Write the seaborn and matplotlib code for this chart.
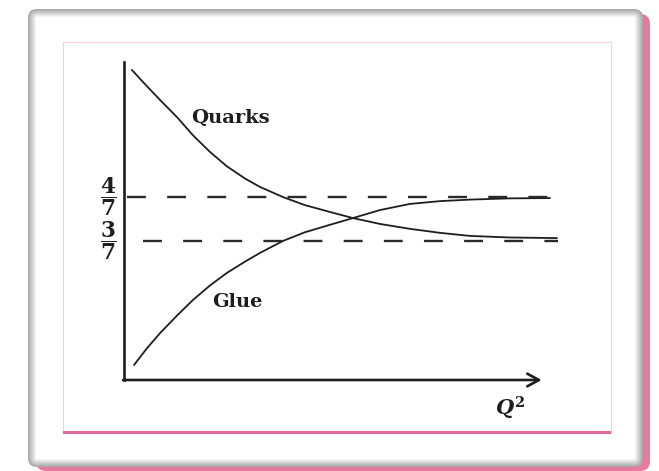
import numpy as np
import pandas as pd
import matplotlib
matplotlib.use("Agg")
import matplotlib.pyplot as plt
import seaborn as sns
from matplotlib.patches import FancyBboxPatch
from matplotlib.transforms import IdentityTransform

# Momentum fractions versus Q^2 (x in relative units of Q^2)
q2_quarks = [0.018, 0.048, 0.083, 0.122, 0.158, 0.197, 0.236, 0.278, 0.312, 0.365,
             0.415, 0.472, 0.525, 0.587, 0.656, 0.725, 0.794, 0.885, 0.993]
quarks = [0.984, 0.938, 0.886, 0.830, 0.772, 0.718, 0.671, 0.631, 0.604, 0.571,
          0.545, 0.523, 0.503, 0.484, 0.468, 0.455, 0.445, 0.440, 0.438]

q2_glue = [0.023, 0.053, 0.083, 0.122, 0.158, 0.197, 0.236, 0.278, 0.312, 0.365,
           0.415, 0.472, 0.525, 0.587, 0.656, 0.725, 0.794, 0.885, 0.977]
glue = [0.026, 0.081, 0.130, 0.187, 0.237, 0.284, 0.325, 0.362, 0.390, 0.429,
        0.457, 0.481, 0.503, 0.529, 0.549, 0.558, 0.563, 0.567, 0.568]

# Asymptotic limits
limit_values = [4 / 7, 3 / 7]
limit_labels = [r"$\dfrac{4}{7}$", r"$\dfrac{3}{7}$"]
limit_start = [0.007, 0.044]
limit_end = [0.977, 0.995]

df = pd.DataFrame({
    "Q2": q2_quarks + q2_glue,
    "fraction": quarks + glue,
    "parton": ["Quarks"] * len(quarks) + ["Glue"] * len(glue),
})

sns.set_theme(style="white")
plt.rcParams["font.family"] = ["DejaVu Serif", "DejaVu Sans"]
plt.rcParams["mathtext.fontset"] = "custom"
plt.rcParams["mathtext.rm"] = "DejaVu Serif:bold"
plt.rcParams["mathtext.bf"] = "DejaVu Serif:bold"
plt.rcParams["mathtext.it"] = "DejaVu Serif:italic:bold"

W, H = 659, 471
fig = plt.figure(figsize=(W / 100, H / 100), dpi=100)
fig.patch.set_facecolor("white")


def box(x0, y0, x1, y1, **kw):
    """Rounded box given in pixel coordinates measured from the top-left."""
    r = kw.pop("r", 0)
    style = f"round,pad=0,rounding_size={r}" if r else "square,pad=0"
    p = FancyBboxPatch((x0, H - y1), x1 - x0, y1 - y0, boxstyle=style,
                       transform=IdentityTransform(), **kw)
    fig.patches.append(p)
    return p


# Pink drop shadow and grey-edged outer frame
box(36, 14, 650, 471, r=10, facecolor="#e8799f", edgecolor="none", zorder=-20)
grey = np.linspace(0.66, 1.0, 9)
for i, g in enumerate(grey):
    box(28 + i, 9 + i, 643 - i, 467 - i, r=max(9 - i, 1),
        facecolor=(g, g, g), edgecolor="none", zorder=-18 + i * 0.01)

# Inner white card with pink edge
box(63, 42, 611, 433, facecolor="white", edgecolor="#f6cfdc", linewidth=0.8, zorder=-5)
box(63, 431, 611, 434, facecolor="#e0679a", edgecolor="none", zorder=-4)

ax_left, ax_right, ax_top, ax_bottom = 124, 560, 62, 380
ax = fig.add_axes([ax_left / W, 1 - ax_bottom / H,
                   (ax_right - ax_left) / W, (ax_bottom - ax_top) / H])
ax.set_facecolor("none")
ax.set_xlim(0, 1)
ylo, yhi = -0.0227, 1.0097
ax.set_ylim(ylo, yhi)

ink = "#1e1e1e"
sns.lineplot(data=df, x="Q2", y="fraction", hue="parton", sort=True,
             palette={"Quarks": ink, "Glue": ink}, linewidth=1.3,
             legend=False, ax=ax, estimator=None)
for line in ax.get_lines():
    line.set_solid_joinstyle("round")

for val, x0, x1 in zip(limit_values, limit_start, limit_end):
    ax.plot([x0, x1], [val, val], color="#2a2a2a", linewidth=1.7,
            dashes=(8.0, 9.0), dash_capstyle="butt")

# Axes: vertical line and arrowed Q^2 axis
for side in ["top", "right", "bottom"]:
    ax.spines[side].set_visible(False)
ax.spines["left"].set_color(ink)
ax.spines["left"].set_linewidth(1.9)
ax.annotate("", xy=(0.958, ylo), xytext=(-0.002, ylo),
            arrowprops=dict(arrowstyle="->,head_length=0.7,head_width=0.38",
                            color=ink, lw=1.9, shrinkA=0, shrinkB=0),
            annotation_clip=False)

ax.set_xticks([])
ax.set_yticks(limit_values)
ax.set_yticklabels(limit_labels, fontsize=15.5, color=ink)
for lab in ax.get_yticklabels():
    lab.set_verticalalignment("center")
ax.tick_params(axis="y", length=0, pad=5)
ax.set_xlabel("")
ax.set_ylabel("")

ax.text(0.245, 0.828, "Quarks", fontsize=14, fontweight="bold", color=ink,
        ha="center", va="center")
ax.text(0.261, 0.232, "Glue", fontsize=14, fontweight="bold", color=ink,
        ha="center", va="center")
ax.text(0.885, -0.115, r"$Q^2$", fontsize=15, color=ink,
        ha="center", va="center", clip_on=False)

fig.savefig("out.png", dpi=100)
